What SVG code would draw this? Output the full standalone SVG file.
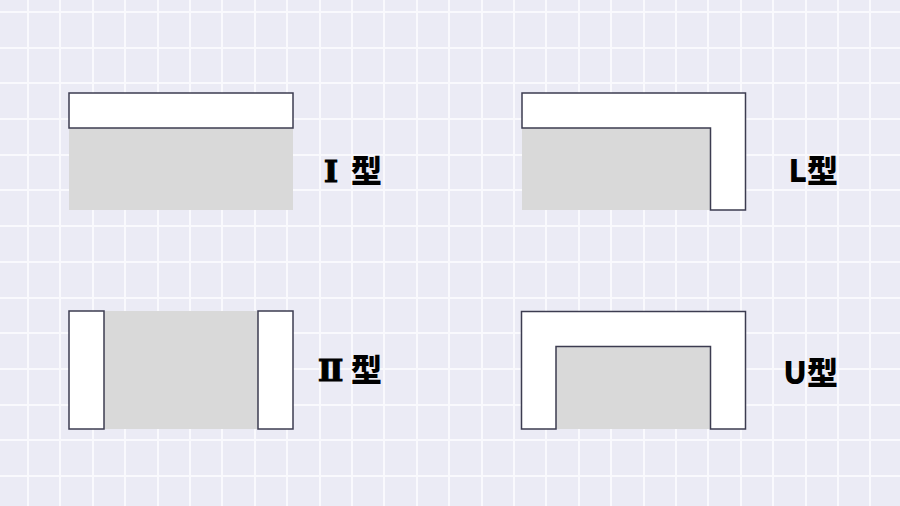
<svg xmlns="http://www.w3.org/2000/svg" width="900" height="506" viewBox="0 0 900 506">
<style>
.grid{stroke:#f9f9fd;stroke-width:2;fill:none}
.core{fill:#d9d9d9}
.part{fill:#ffffff;stroke:#3c3c50;stroke-width:1.5}
.lbl{font-family:"Noto Sans CJK SC","Noto Sans",sans-serif;font-weight:900;font-size:31px;fill:#000}
.rn{font-family:"DejaVu Serif",serif;font-weight:bold;font-size:30px;stroke:#000;stroke-width:1.2}
</style>
<rect width="900" height="506" fill="#ebebf5"/>
<path class="grid" d="M28 0V506M60 0V506M93 0V506M125 0V506M158 0V506M190 0V506M222 0V506M255 0V506M287 0V506M320 0V506M352 0V506M384 0V506M417 0V506M449 0V506M482 0V506M514 0V506M546 0V506M579 0V506M611 0V506M644 0V506M676 0V506M708 0V506M741 0V506M773 0V506M806 0V506M838 0V506M870 0V506M0 12H900M0 48H900M0 83H900M0 119H900M0 155H900M0 190H900M0 226H900M0 262H900M0 298H900M0 333H900M0 369H900M0 405H900M0 440H900M0 476H900"/>
<g id="I-type">
<rect class="core" x="69" y="128" width="224" height="82"/>
<rect class="part" x="69" y="93" width="224" height="35"/>
<text class="lbl" x="324" y="182"><tspan class="rn">Ⅰ</tspan><tspan x="351">型</tspan></text>
</g>
<g id="L-type">
<rect class="core" x="522" y="128" width="188" height="82"/>
<path class="part" d="M522 93H745.5V210H710.5V128H522Z"/>
<text class="lbl" x="838" y="182" text-anchor="end">L型</text>
</g>
<g id="Pi-type">
<rect class="core" x="104" y="311" width="154" height="118"/>
<rect class="part" x="69" y="311" width="35" height="118"/>
<rect class="part" x="258" y="311" width="35" height="118"/>
<text class="lbl" x="318" y="381"><tspan class="rn">Ⅱ</tspan><tspan x="351">型</tspan></text>
</g>
<g id="U-type">
<rect class="core" x="556" y="347" width="154" height="82"/>
<path class="part" d="M521.5 311.5H745.5V429H710.5V346.5H556V429H521.5Z"/>
<text class="lbl" x="838" y="384" text-anchor="end">U型</text>
</g>
</svg>
